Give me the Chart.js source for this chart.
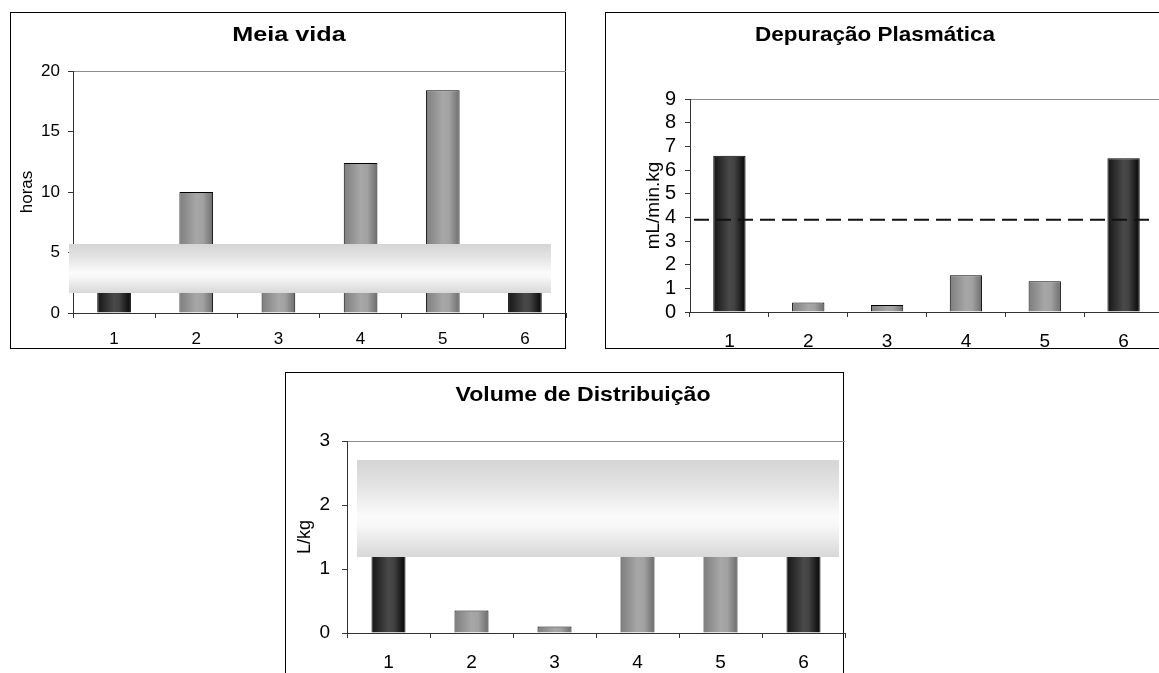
<!DOCTYPE html>
<html>
<head>
<meta charset="utf-8">
<script src="https://cdn.jsdelivr.net/npm/chart.js@4.4.1/dist/chart.umd.min.js"></script>
<style>
  html, body { margin: 0; padding: 0; background: #fff; overflow: hidden; width: 1159px; height: 673px; }
  .frame { position: absolute; border: 1px solid #000; box-sizing: border-box; }
  .wrap { position: absolute; }
  .mask {
    position: absolute;
    background: linear-gradient(#d5d5d5 0%, #e4e4e4 28%, #fbfbfb 58%, #f7f7f7 68%, #d8d8d8 100%);
  }
</style>
</head>
<body>

<div class="frame" style="left:10px;top:12px;width:556px;height:337px"></div>
<div class="frame" style="left:605px;top:12px;width:700px;height:337px"></div>
<div class="frame" style="left:285px;top:372px;width:559px;height:400px"></div>

<div class="wrap" style="left:0px;top:12px;width:580px;height:340px"><canvas id="meiaVida"></canvas></div>
<div class="wrap" style="left:590px;top:12px;width:600px;height:340px"><canvas id="depuracao"></canvas></div>
<div class="wrap" style="left:280px;top:372px;width:580px;height:301px"><canvas id="volume"></canvas></div>

<div class="mask" style="left:69px;top:244px;width:482px;height:49px"></div>
<div class="mask" style="left:357px;top:460px;width:482px;height:97px"></div>

<script>
// categorias (animais / grupos) e valores
const categories = ['1', '2', '3', '4', '5', '6'];
const darkCategories = ['1', '6'];

const meiaVida = [3.4, 10.0, 4.1, 12.4, 18.4, 3.0];       // horas
const depuracao = [6.6, 0.4, 0.3, 1.55, 1.3, 6.5];        // mL/min.kg
const depuracaoRef = 3.9;                                 // linha tracejada
const volume = [2.0, 0.35, 0.1, 1.9, 2.2, 1.7];           // L/kg

const FONT = '"Liberation Sans", Arial, sans-serif';
const BAR_PCT = 0.41;

function barFill(ctx) {
    const dark = darkCategories.includes(categories[ctx.dataIndex]);
    const chart = ctx.chart;
    if (ctx.dataIndex === undefined || !chart.chartArea) return dark ? '#333' : '#999';
    const xs = chart.scales.x;
    const cx = xs.getPixelForValue(ctx.dataIndex);
    const half = xs.width / categories.length * BAR_PCT / 2;
    const g = chart.ctx.createLinearGradient(cx - half, 0, cx + half, 0);
    if (dark) {
        g.addColorStop(0, '#151515');
        g.addColorStop(0.5, '#494949');
        g.addColorStop(0.65, '#434343');
        g.addColorStop(1, '#050505');
    } else {
        g.addColorStop(0, '#7e7e7e');
        g.addColorStop(0.5, '#a7a7a7');
        g.addColorStop(0.7, '#a1a1a1');
        g.addColorStop(1, '#6c6c6c');
    }
    return g;
}

// chart title drawn at a fixed spot (slightly widened like the original)
const headline = {
    id: 'headline',
    afterDraw(chart, args, opts) {
        const c = chart.ctx;
        c.save();
        c.translate(opts.x, opts.y);
        c.scale(opts.stretch || 1, 1);
        c.font = `bold ${opts.size}px ${FONT}`;
        c.fillStyle = '#000';
        c.textAlign = 'center';
        c.textBaseline = 'middle';
        c.fillText(opts.text, 0, 0);
        c.restore();
    }
};

// dashed reference line
const refLine = {
    id: 'refLine',
    afterDatasetsDraw(chart, args, opts) {
        if (opts.value === undefined) return;
        const c = chart.ctx;
        const a = chart.chartArea;
        const y = chart.scales.y.getPixelForValue(opts.value);
        c.save();
        c.strokeStyle = '#111';
        c.lineWidth = 2;
        c.setLineDash([15, 7]);
        c.beginPath();
        c.moveTo(a.left + opts.startInset, y);
        c.lineTo(a.right - opts.endInset, y);
        c.stroke();
        c.restore();
    }
};

function createChart(id, values, s) {
    const ctx = document.getElementById(id).getContext('2d');
    const plugins = [headline];
    if (s.ref !== undefined) plugins.push(refLine);

    return new Chart(ctx, {
        type: 'bar',
        data: {
            labels: categories,
            datasets: [{
                data: values,
                backgroundColor: barFill,
                borderColor: '#000',
                borderWidth: 1,
                borderSkipped: 'bottom',
                barPercentage: BAR_PCT,
                categoryPercentage: 1
            }]
        },
        options: {
            responsive: true,
            maintainAspectRatio: false,
            animation: false,
            layout: {
                autoPadding: false,
                padding: { left: 0, right: s.padRight, top: s.padTop, bottom: 0 }
            },
            plugins: {
                legend: { display: false },
                tooltip: { enabled: false },
                headline: { text: s.title, x: s.titleX, y: s.titleY, size: s.titleSize, stretch: s.titleStretch },
                refLine: { value: s.ref, startInset: 4, endInset: 14 }
            },
            scales: {
                x: {
                    afterFit: sc => { sc.height = s.xHeight; },
                    border: { color: '#333', width: 1 },
                    grid: {
                        offset: true,
                        color: c => c.index === categories.length ? '#8c8c8c' : 'rgba(0,0,0,0)',
                        tickColor: '#333',
                        tickLength: 5
                    },
                    ticks: {
                        padding: s.xPad,
                        color: '#000',
                        maxRotation: 0,
                        autoSkip: false,
                        font: { family: FONT, size: s.xTickSize || s.tickSize }
                    }
                },
                y: {
                    min: 0,
                    max: s.yMax,
                    afterFit: sc => { sc.width = s.yWidth; },
                    border: { color: '#333', width: 1 },
                    grid: {
                        color: c => (c.tick && c.tick.value === s.yMax) ? '#8c8c8c' : 'rgba(0,0,0,0)',
                        tickColor: '#333',
                        tickLength: 5
                    },
                    ticks: {
                        stepSize: s.yStep,
                        autoSkip: false,
                        padding: s.yPad,
                        color: '#000',
                        font: { family: FONT, size: s.tickSize }
                    },
                    title: {
                        display: true,
                        text: s.yTitle,
                        color: '#000',
                        font: { family: FONT, size: s.yTitleSize },
                        padding: { top: s.yTitlePad, bottom: 0 }
                    }
                }
            }
        },
        plugins: plugins
    });
}

createChart('meiaVida', meiaVida, {
    title: 'Meia vida', titleX: 289, titleY: 23, titleSize: 21, titleStretch: 1.2,
    yTitle: 'horas', yTitleSize: 17, yTitlePad: 17,
    yMax: 20, yStep: 5, tickSize: 17,
    yWidth: 73, yPad: 8, xHeight: 39, xPad: 11.5,
    padTop: 59, padRight: 14
});

createChart('depuracao', depuracao, {
    title: 'Depuração Plasmática', titleX: 285, titleY: 23, titleSize: 21, titleStretch: 1.07,
    yTitle: 'mL/min.kg', yTitleSize: 19, yTitlePad: 52,
    yMax: 9, yStep: 1, tickSize: 20, xTickSize: 19,
    yWidth: 100, yPad: 9, xHeight: 40, xPad: 13,
    padTop: 87, padRight: 27,
    ref: depuracaoRef
});

createChart('volume', volume, {
    title: 'Volume de Distribuição', titleX: 303, titleY: 23, titleSize: 21, titleStretch: 1.1,
    yTitle: 'L/kg', yTitleSize: 18, yTitlePad: 14,
    yMax: 3, yStep: 1, tickSize: 19,
    yWidth: 67, yPad: 12, xHeight: 40, xPad: 13,
    padTop: 69, padRight: 15
});
</script>
</body>
</html>
